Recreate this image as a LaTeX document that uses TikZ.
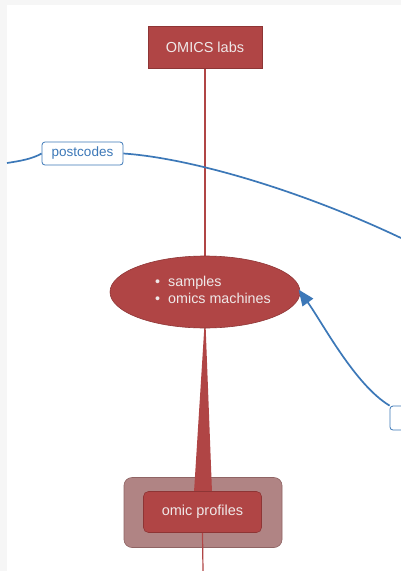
\documentclass[tikz,border=0pt]{standalone}
\usepackage{fontspec}
\setmainfont{Liberation Sans}
\usetikzlibrary{shapes.geometric,calc,arrows.meta}

\definecolor{boxred}{HTML}{B04545}
\definecolor{boxedge}{HTML}{8E3535}
\definecolor{groupfill}{HTML}{B08484}
\definecolor{groupedge}{HTML}{8F6464}
\definecolor{linkblue}{HTML}{3C78B8}
\definecolor{labeltext}{HTML}{EFE8E8}
\definecolor{pagegrey}{HTML}{F6F6F6}

\pgfdeclarelayer{bg}
\pgfsetlayers{bg,main}

\begin{document}
\begin{tikzpicture}[x=1pt,y=-1pt,
  redbox/.style={draw=boxedge, fill=boxred, text=labeltext, line width=0.6pt,
    inner sep=0pt, font=\fontsize{14.5}{17}\selectfont},
  bluetag/.style={draw=linkblue, fill=white, text=linkblue, line width=0.8pt,
    rounded corners=3pt, inner sep=0pt, font=\fontsize{13.5}{16}\selectfont},
  redlink/.style={draw=boxred, line width=1.2pt},
  bluelink/.style={draw=linkblue, line width=1.7pt}]

\useasboundingbox (0,0) rectangle (401,571);
\clip (0,0) rectangle (401,571);

% main topics
\node[redbox, minimum width=114, minimum height=42] (labs) at (205,47) {OMICS labs};
\node[redbox, ellipse, minimum width=190, minimum height=72] (hub) at (205,292) {};
\node[text=labeltext, font=\fontsize{14.3}{17}\selectfont, inner sep=0pt] (items) at (213,291.5)
  {\begin{tabular}{@{}l@{\hspace{8pt}}l@{}}\textbullet & samples\\[0.5pt]\textbullet & omics machines\end{tabular}};
\node[redbox, rounded corners=5pt, minimum width=118, minimum height=41] (profiles) at (202.5,512) {omic profiles};

% relation tags
\node[bluetag, minimum width=81, minimum height=23] (postcodes) at (82.5,153.5) {postcodes};
\node[bluetag, minimum width=70, minimum height=24] (seq) at (425,418) {};

% free ends of the connectors
\coordinate (westend) at (7,163);
\coordinate (eastend) at (401,238);
\coordinate (tail) at (203,571);

% relations
\draw[bluelink] (westend) .. controls (20,161) and (32,159) .. (postcodes.west);
\draw[bluelink] (postcodes.east) .. controls (190,158) and (300,190) .. (eastend);
\draw[bluelink, -{Triangle[length=16pt,width=13pt]}, shorten >=-3pt]
  (seq.north west) .. controls (355,385) and (322,322) .. (hub.east);

\begin{pgfonlayer}{bg}
  \fill[pagegrey] (0,0) rectangle (401,571);
  \fill[white] (7,5) rectangle (401,571);
  \node[draw=groupedge, fill=groupfill, line width=0.6pt, rounded corners=8pt,
    minimum width=158, minimum height=70, inner sep=0pt] (group) at (203,512.5) {};
  \draw[redlink] (labs.south) -- (hub.north);
  \fill[boxred] ($(hub.south)+(-0.6,-2)$) -- ($(hub.south)+(0.6,-2)$)
    -- ($(profiles.north)+(9.5,1)$) -- ($(profiles.north)+(-8.5,1)$) -- cycle;
  \draw[redlink] (profiles.south) -- (tail);
\end{pgfonlayer}
\end{tikzpicture}
\end{document}
